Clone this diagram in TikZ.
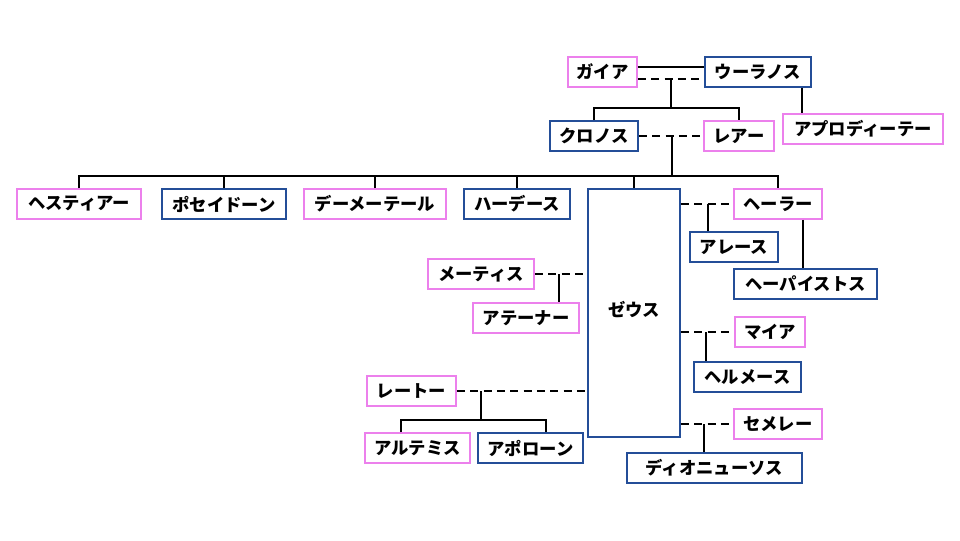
\documentclass[tikz,border=0pt]{standalone}
\usepackage{fontspec}
\setmainfont{Noto Sans CJK JP}
\definecolor{pinkb}{RGB}{236,128,236}
\definecolor{blueb}{RGB}{36,78,152}
\tikzset{
  lbl/.style={font=\fontsize{13pt}{15pt}\selectfont\bfseries},
  bx/.style={draw, line width=1.4pt, inner sep=0pt, fill=white, lbl},
  fem/.style={bx, draw=pinkb},
  mal/.style={bx, draw=blueb},
  ln/.style={line width=1.5pt, black},
  dsh/.style={ln, dash pattern=on 6pt off 4pt}
}
\newcommand\gbox[7]{\node[#6, minimum width={(#4-#2)*0.75pt}, minimum height={(#5-#3)*0.75pt}] (#1) at ({(#2+#4)/2},{(#3+#5)/2}) {#7};}
\begin{document}
\begin{tikzpicture}[x=0.75pt,y=-0.75pt]
\fill[white] (0,0) rectangle (960,540);
\useasboundingbox (0,0) rectangle (960,540);
% boxes
\gbox{gaia}{568}{57}{637}{87}{fem}{ガイア}
\gbox{uranos}{705}{57}{811}{87}{mal}{ウーラノス}
\gbox{kronos}{550}{121}{638}{151}{mal}{クロノス}
\gbox{rhea}{704}{121}{774}{151}{fem}{レアー}
\gbox{aphro}{783}{114}{943}{144}{fem}{アプロディーテー}
\gbox{hestia}{17}{189}{141}{219}{fem}{ヘスティアー}
\gbox{poseidon}{162}{189}{286}{219}{mal}{ポセイドーン}
\gbox{demeter}{304}{189}{446}{219}{fem}{デーメーテール}
\gbox{hades}{464}{189}{570}{219}{mal}{ハーデース}
\gbox{zeus}{588}{189}{680}{437}{mal}{}
\node[lbl] (zeuslbl) at (634,310) {ゼウス};
\gbox{hera}{734}{189}{822}{219}{fem}{ヘーラー}
\gbox{ares}{690}{232}{778}{262}{mal}{アレース}
\gbox{heph}{734}{269}{877}{299}{mal}{ヘーパイストス}
\gbox{metis}{428}{259}{534}{289}{fem}{メーティス}
\gbox{athena}{473}{303}{579}{333}{fem}{アテーナー}
\gbox{leto}{367}{376}{456}{406}{fem}{レートー}
\gbox{artemis}{365}{433}{470}{463}{fem}{アルテミス}
\gbox{apollo}{478}{433}{583}{463}{mal}{アポローン}
\gbox{maia}{735}{317}{805}{347}{fem}{マイア}
\gbox{hermes}{694}{362}{801}{392}{mal}{ヘルメース}
\gbox{semele}{734}{409}{822}{439}{fem}{セメレー}
\gbox{dion}{627}{453}{802}{483}{mal}{ディオニューソス}
% coordinates
\coordinate (gus) at (671,67);
\coordinate (gud) at (671,79);
\coordinate (gub) at (671,108);
\coordinate (ua) at (802,0);
\coordinate (kr) at (672,136);
\coordinate (kb) at (672,176);
\coordinate (zh) at (708,204);
\coordinate (hh) at (803,0);
\coordinate (ma) at (559,274);
\coordinate (lb) at (481,420);
\coordinate (ar) at (401,0);
\coordinate (ap) at (546,0);
\coordinate (mh) at (706,332);
\coordinate (sd) at (704,424);
% connectors
\draw[ln] (gaia.east |- gus) -- (uranos.west |- gus);
\draw[dsh] (gaia.east |- gud) -- (uranos.west |- gud);
\draw[ln] (gud) -- (gub);
\draw[ln] (kronos.north) |- (gub) -| (rhea.north);
\draw[ln] (uranos.south -| ua) -- (aphro.north -| ua);
\draw[dsh] (kronos.east) -- (rhea.west);
\draw[ln] (kr) -- (kb);
\draw[ln] (hestia.north) |- (kb) -| (hera.north);
\draw[ln] (poseidon.north) -- (poseidon.north |- kb);
\draw[ln] (demeter.north) -- (demeter.north |- kb);
\draw[ln] (hades.north) -- (hades.north |- kb);
\draw[ln] (zeus.north) -- (zeus.north |- kb);
\draw[dsh] (zeus.east |- hera) -- (hera.west);
\draw[ln] (zh) -- (ares.north -| zh);
\draw[ln] (hera.south -| hh) -- (heph.north -| hh);
\draw[dsh] (metis.east) -- (zeus.west |- metis);
\draw[ln] (ma) -- (athena.north -| ma);
\draw[dsh] (leto.east) -- (zeus.west |- leto);
\draw[ln] (leto.east -| lb) -- (lb);
\draw[ln] (artemis.north -| ar) |- (lb) -| (apollo.north -| ap);
\draw[dsh] (zeus.east |- maia) -- (maia.west);
\draw[ln] (mh) -- (hermes.north -| mh);
\draw[dsh] (zeus.east |- semele) -- (semele.west);
\draw[ln] (sd) -- (dion.north -| sd);
\end{tikzpicture}
\end{document}
